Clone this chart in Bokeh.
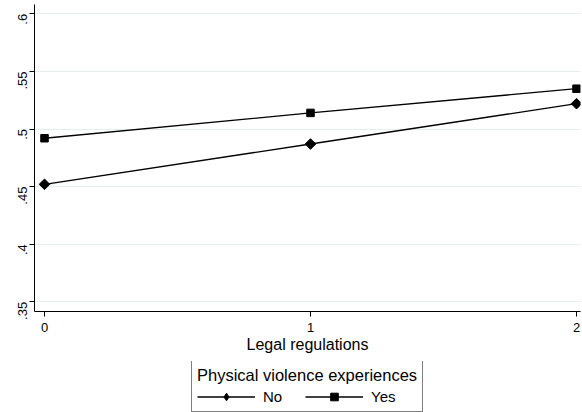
from bokeh.plotting import figure
from bokeh.models import FixedTicker, Legend, LegendItem, Range1d
from bokeh.layouts import column
from bokeh.embed import file_html
from bokeh.resources import INLINE
import math

# Data
x_vals = [0, 1, 2]
x_labels = ["0", "1", "2"]
no_vals = [0.452, 0.487, 0.522]
yes_vals = [0.492, 0.514, 0.535]
y_ticks = [0.35, 0.4, 0.45, 0.5, 0.55, 0.6]
y_tick_labels = [".35", ".4", ".45", ".5", ".55", ".6"]
series_names = ["No", "Yes"]
legend_title = "Physical violence experiences"
x_title = "Legal regulations"

FONT = "Liberation Sans"
W = 582
H_MAIN = 361
H_LEG = 51

p = figure(width=W, height=H_MAIN, output_backend="svg", toolbar_location=None,
           x_range=Range1d(-0.0376, 2.015), y_range=Range1d(0.3416, 0.6081),
           min_border_left=34, min_border_right=2, min_border_top=4, min_border_bottom=50)
p.outline_line_color = None
p.background_fill_color = "white"
p.border_fill_color = "white"

def draw_series(fig, xs, ys, marker, size, angle):
    l = fig.line(xs, ys, line_color="black", line_width=1.3)
    m = fig.scatter(xs, ys, marker=marker, size=size, angle=angle, color="black")
    return l, m

draw_series(p, x_vals, no_vals, "square", 7.5, math.pi / 4)
draw_series(p, x_vals, yes_vals, "square", 7.5, 0)

# axes
p.xaxis.ticker = FixedTicker(ticks=x_vals)
p.xaxis.major_label_overrides = {v: l for v, l in zip(x_vals, x_labels)}
p.yaxis.ticker = FixedTicker(ticks=y_ticks)
p.yaxis.major_label_overrides = {v: l for v, l in zip(y_ticks, y_tick_labels)}
p.yaxis.major_label_orientation = math.pi / 2
for ax in (p.xaxis[0], p.yaxis[0]):
    ax.axis_line_color = "black"
    ax.axis_line_width = 1
    ax.major_tick_line_color = "black"
    ax.major_tick_out = 5
    ax.major_tick_in = 0
    ax.minor_tick_line_color = None
    ax.major_label_text_font = FONT
    ax.major_label_text_font_size = "13px"
    ax.major_label_text_color = "black"
p.xaxis.major_label_standoff = 6
p.yaxis.major_label_standoff = 7
p.xaxis.axis_label = x_title
p.xaxis.axis_label_text_font = FONT
p.xaxis.axis_label_text_font_size = "16px"
p.xaxis.axis_label_text_font_style = "normal"
p.xaxis.axis_label_text_color = "black"
p.xaxis.axis_label_standoff = 1

p.xgrid.grid_line_color = None
p.ygrid.ticker = FixedTicker(ticks=y_ticks)
p.ygrid.grid_line_color = "#e6eef0"
p.ygrid.grid_line_width = 1

# legend panel below the plot (its series lie outside this panel's view)
lp = figure(width=W, height=H_LEG, output_backend="svg", toolbar_location=None,
            x_range=Range1d(0, 1), y_range=Range1d(10, 11),
            min_border_left=0, min_border_right=0, min_border_top=0, min_border_bottom=0)
lp.axis.visible = False
lp.grid.visible = False
lp.outline_line_color = None
lp.background_fill_color = "white"
lp.border_fill_color = "white"
ln_l, ln_m = draw_series(lp, x_vals, no_vals, "diamond", 7.5, 0)
ly_l, ly_m = draw_series(lp, x_vals, yes_vals, "square", 7.5, 0)

legend = Legend(items=[LegendItem(label=series_names[0], renderers=[ln_l, ln_m]),
                       LegendItem(label=series_names[1], renderers=[ly_l, ly_m])],
                orientation="horizontal", location=(157, 0),
                title=legend_title, title_text_font=FONT, title_text_font_size="16.5px",
                title_text_font_style="normal", title_text_color="black", title_standoff=2,
                label_text_font=FONT, label_text_font_size="15px", label_text_color="black",
                glyph_width=58, glyph_height=19, label_standoff=8, spacing=22,
                padding=5, margin=0,
                border_line_color="black", border_line_width=1,
                background_fill_color="white", background_fill_alpha=1)
lp.add_layout(legend, "center")

layout = column(p, lp, spacing=0)
open("out.html", "w").write(file_html(layout, INLINE))
